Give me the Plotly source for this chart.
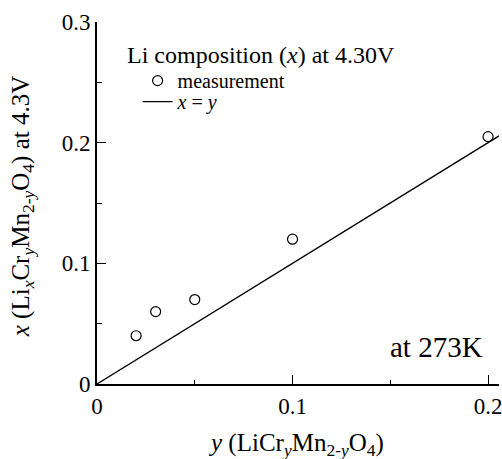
import plotly.graph_objects as go

# Measured Li composition x at 4.30 V versus Cr content y
cr_content = [0.02, 0.03, 0.05, 0.10, 0.20]
li_composition = [0.04, 0.06, 0.07, 0.12, 0.205]

# Reference line x = y
ref_x = [0.0, 0.2056]
ref_y = [0.0, 0.2056]

x_tickvals = [0, 0.1, 0.2]
x_ticktext = ["0", "0.1", "0.2"]
y_tickvals = [0, 0.1, 0.2, 0.3]
y_ticktext = ["0", "0.1", "0.2", "0.3"]

FONT = "Liberation Serif"

fig = go.Figure()
fig.add_trace(go.Scatter(
    x=cr_content, y=li_composition, mode="markers", name="measurement",
    marker=dict(symbol="circle-open", size=10, color="black", line=dict(width=1.2, color="black")),
    legend="legend",
))
fig.add_trace(go.Scatter(
    x=ref_x, y=ref_y, mode="lines", name="<i>x</i> = <i>y</i>",
    line=dict(color="black", width=1.3),
    legend="legend2",
))

legend_style = dict(xanchor="left", yanchor="top", bgcolor="rgba(0,0,0,0)",
                    font=dict(size=20, family=FONT), itemwidth=30)

fig.update_layout(
    width=502, height=459,
    margin=dict(l=97, r=0, t=22, b=75),
    paper_bgcolor="white", plot_bgcolor="white",
    font=dict(family=FONT, color="black", size=20),
    showlegend=True,
    legend=dict(x=0.101, y=0.892, **legend_style),
    legend2=dict(x=0.101, y=0.834, **legend_style),
    xaxis=dict(
        range=[0, 0.2056], showgrid=False, zeroline=False,
        showline=True, linecolor="black", linewidth=2,
        ticks="inside", ticklen=9, tickwidth=1.2, tickcolor="black",
        tickvals=x_tickvals, ticktext=x_ticktext,
        ticklabeloverflow="allow",
        tickfont=dict(size=23, family=FONT),
        minor=dict(dtick=0.05, ticks="inside", ticklen=4, tickwidth=1, tickcolor="black", showgrid=False),
    ),
    yaxis=dict(
        range=[0, 0.3], showgrid=False, zeroline=False,
        showline=True, linecolor="black", linewidth=2,
        ticks="inside", ticklen=9, tickwidth=1.2, tickcolor="black",
        tickvals=y_tickvals, ticktext=y_ticktext,
        ticklabeloverflow="allow",
        tickfont=dict(size=23, family=FONT),
        minor=dict(dtick=0.05, ticks="inside", ticklen=5, tickwidth=1, tickcolor="black", showgrid=False),
    ),
    annotations=[
        dict(text="Li composition (<i>x</i>) at 4.30V", xref="paper", yref="paper",
             x=0.069, y=0.909, xanchor="left", yanchor="middle", showarrow=False,
             font=dict(size=24, family=FONT)),
        dict(text="at 273K", xref="paper", yref="paper",
             x=0.965, y=0.102, xanchor="right", yanchor="middle", showarrow=False,
             font=dict(size=29, family=FONT)),
        dict(text="<i>y</i> (LiCr<sub><i>y</i></sub>Mn<sub>2-<i>y</i></sub>O<sub>4</sub>)",
             xref="paper", yref="paper", x=0.494, y=-0.166, xanchor="center", yanchor="middle",
             showarrow=False, font=dict(size=25, family=FONT)),
        dict(text="<i>x</i> (Li<sub><i>x</i></sub>Cr<sub><i>y</i></sub>Mn<sub>2-<i>y</i></sub>O<sub>4</sub>) at 4.3V",
             xref="paper", yref="paper", x=-0.185, y=0.49, xanchor="center", yanchor="middle",
             textangle=-90, showarrow=False, font=dict(size=25, family=FONT)),
    ],
)

fig.write_html("out.html")
